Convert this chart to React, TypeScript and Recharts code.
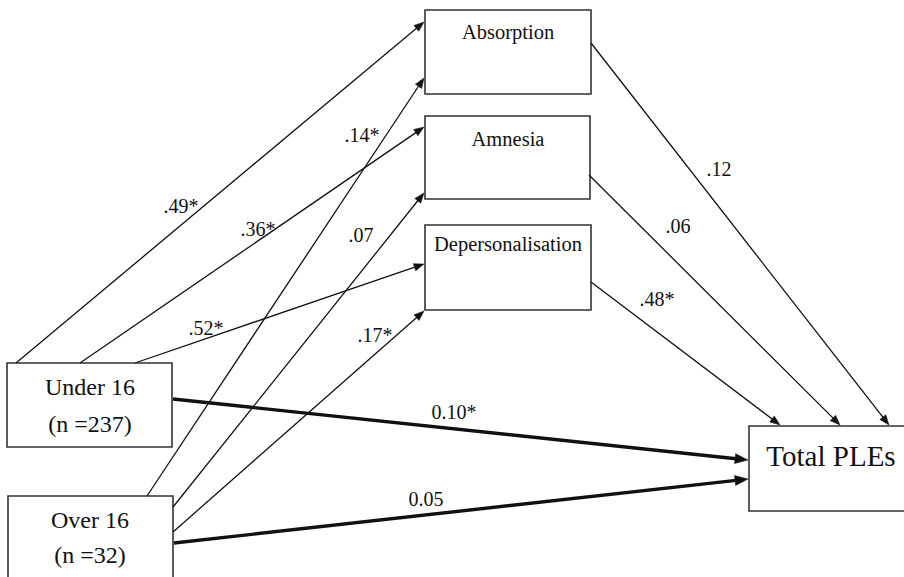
import {
  ComposedChart,
  XAxis,
  YAxis,
  Scatter,
  ReferenceArea,
  ReferenceLine,
  ReferenceDot,
} from "recharts";

// node names and their second line of text
const nodeNames = ["Absorption", "Amnesia", "Depersonalisation", "Under 16", "Over 16", "Total PLEs"];
const nodeSubLines = ["", "", "", "(n =237)", "(n =32)", ""];

// paths: source node, target node, coefficient shown on the arrow
const pathFrom = ["Under 16", "Under 16", "Under 16", "Over 16", "Over 16", "Over 16", "Under 16", "Over 16", "Absorption", "Amnesia", "Depersonalisation"];
const pathTo = ["Absorption", "Amnesia", "Depersonalisation", "Absorption", "Amnesia", "Depersonalisation", "Total PLEs", "Total PLEs", "Total PLEs", "Total PLEs", "Total PLEs"];
const pathCoefficients = [".49*", ".36*", ".52*", ".14*", ".07", ".17*", "0.10*", "0.05", ".12", ".06", ".48*"];
const directPaths = ["0.10*", "0.05"];

// diagram layout (in chart units, 904 x 577 canvas)
const boxLayout: Record<string, { x1: number; x2: number; y1: number; y2: number; font: number; cx: number; lines: number[] }> = {
  Absorption: { x1: 425, x2: 591, y1: 10, y2: 94, font: 20.5, cx: 508, lines: [39] },
  Amnesia: { x1: 425, x2: 590, y1: 116, y2: 199, font: 20.5, cx: 508, lines: [146] },
  Depersonalisation: { x1: 425, x2: 591, y1: 225, y2: 310, font: 20.5, cx: 508, lines: [251] },
  "Under 16": { x1: 7, x2: 172, y1: 363, y2: 447, font: 24, cx: 90, lines: [395, 432] },
  "Over 16": { x1: 8, x2: 173, y1: 496, y2: 610, font: 24, cx: 90, lines: [528, 563] },
  "Total PLEs": { x1: 749, x2: 940, y1: 426, y2: 511, font: 29, cx: 831, lines: [466] },
};

const pathLayout = [
  { start: [16, 363], end: [424, 22], label: [181, 213] },
  { start: [80, 363], end: [424, 127], label: [258, 236] },
  { start: [135, 363], end: [424, 264], label: [206, 335] },
  { start: [147, 496], end: [424, 78], label: [362, 142] },
  { start: [173, 507], end: [424, 193], label: [361, 242] },
  { start: [173, 532], end: [424, 311], label: [375, 342] },
  { start: [173, 399], end: [748, 460], label: [454, 419] },
  { start: [174, 543], end: [748, 479], label: [426, 506] },
  { start: [591, 43], end: [889, 425], label: [719, 176] },
  { start: [589, 175], end: [840, 425], label: [678, 233] },
  { start: [591, 282], end: [780, 425], label: [657, 306] },
];

const serif = '"Liberation Serif", "Times New Roman", Times, serif';
const ink = "#111";

const arrowShape = (thick: boolean) => (props: any) => {
  const { x1, y1, x2, y2 } = props;
  const dx = x2 - x1;
  const dy = y2 - y1;
  const len = Math.hypot(dx, dy) || 1;
  const ux = dx / len;
  const uy = dy / len;
  const headLen = thick ? 13 : 10;
  const headW = thick ? 5 : 3.8;
  const bx = x2 - ux * headLen;
  const by = y2 - uy * headLen;
  const pts = [
    [x2, y2],
    [bx - uy * headW, by + ux * headW],
    [bx + uy * headW, by - ux * headW],
  ]
    .map((p) => p.join(","))
    .join(" ");
  return (
    <g>
      <line x1={x1} y1={y1} x2={bx + ux} y2={by + uy} stroke={ink} strokeWidth={thick ? 3.4 : 1.3} />
      <polygon points={pts} fill={ink} stroke={ink} strokeWidth={0.5} />
    </g>
  );
};

const textShape = (value: string, size: number) => (props: any) => (
  <text
    x={props.cx}
    y={props.cy}
    textAnchor="middle"
    style={{ fontFamily: serif, fontSize: size, fill: ink }}
  >
    {value}
  </text>
);

const anchorPoints = nodeNames.map((n) => ({ x: boxLayout[n].cx, y: boxLayout[n].lines[0] }));

export default function App() {
  return (
    <div style={{ position: "absolute", left: 0, top: 0, background: "#fff", fontFamily: serif }}>
      <ComposedChart width={904} height={577} margin={{ top: 0, right: 0, bottom: 0, left: 0 }}>
        <XAxis type="number" dataKey="x" domain={[0, 904]} hide allowDataOverflow />
        <YAxis type="number" dataKey="y" domain={[0, 577]} reversed hide allowDataOverflow />
        <Scatter data={anchorPoints} fill="none" shape={() => <g />} isAnimationActive={false} />

        {pathCoefficients.map((c, i) => {
          const p = pathLayout[i];
          return (
            <ReferenceLine
              key={`edge-${pathFrom[i]}-${pathTo[i]}`}
              segment={[
                { x: p.start[0], y: p.start[1] },
                { x: p.end[0], y: p.end[1] },
              ]}
              ifOverflow="visible"
              shape={arrowShape(directPaths.includes(c))}
            />
          );
        })}

        {nodeNames.map((n) => {
          const b = boxLayout[n];
          return (
            <ReferenceArea
              key={`box-${n}`}
              x1={b.x1}
              x2={b.x2}
              y1={b.y1}
              y2={b.y2}
              ifOverflow="hidden"
              fill="#fff"
              fillOpacity={1}
              stroke="#333"
              strokeWidth={1.6}
            />
          );
        })}

        {nodeNames.map((n, i) => {
          const b = boxLayout[n];
          return [nodeNames[i], nodeSubLines[i]]
            .filter((t) => t)
            .map((t, j) => (
              <ReferenceDot
                key={`txt-${n}-${j}`}
                x={b.cx}
                y={b.lines[j]}
                r={0}
                ifOverflow="visible"
                shape={textShape(t, b.font)}
              />
            ));
        })}

        {pathCoefficients.map((c, i) => (
          <ReferenceDot
            key={`coef-${i}`}
            x={pathLayout[i].label[0]}
            y={pathLayout[i].label[1]}
            r={0}
            ifOverflow="visible"
            shape={textShape(c, 20)}
          />
        ))}
      </ComposedChart>
    </div>
  );
}
